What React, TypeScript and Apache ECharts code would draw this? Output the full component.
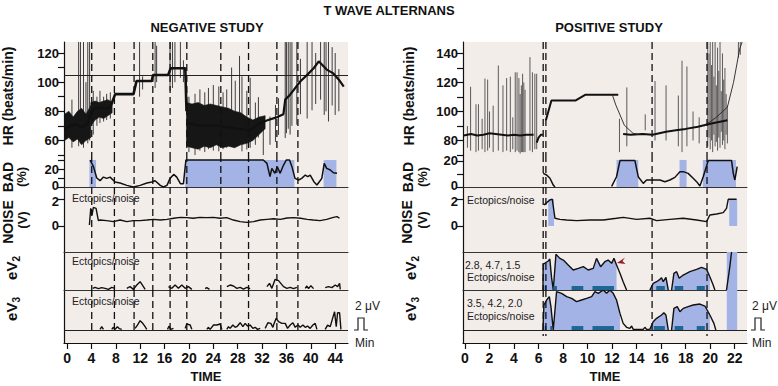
import React, { useEffect, useRef } from "react";
import * as echarts from "echarts";

const FONT = "'Liberation Sans', Arial, Helvetica, sans-serif";
const BG = "#f3edea";
const BLUE = "#a4b3e6";
const TEAL = "#1d6795";
const INK = "#111111";

// ---------------- axis ticks / labels ----------------
const leftTimeLabels = [0, 4, 8, 12, 16, 20, 24, 28, 32, 36, 40, 44];
const rightTimeLabels = [0, 2, 4, 6, 8, 10, 12, 14, 16, 18, 20, 22];
const leftHrTicks = [50, 60, 70, 80, 90, 100, 110, 120];
const leftHrLabels = [60, 80, 100, 120];
const rightHrTicks = [70, 80, 90, 100, 110, 120, 130, 140];
const rightHrLabels = [80, 100, 120, 140];
const leftBadTicks = [0, 10, 20, 30];
const rightBadTicks = [0, 10, 20];
const badLabels = [0, 20];
const noiseTicks = [0, 1, 2];
const noiseLabels = [0, 1, 2];
const hrReferenceLeft = 105;
const tealHeight = 0.68;

// ---------------- event markers (dashed lines) ----------------
const leftEvents = [4.05, 7.77, 11.0, 14.07, 16.91, 19.65, 25.23, 29.78, 34.43, 37.88];
const rightEvents = [6.38, 6.6, 15.26, 19.74];

// ---------------- NEGATIVE STUDY : HR ----------------
const leftHrTrendA = [[-0.4, 68], [0.5, 70], [1.5, 71], [2.5, 69], [3.5, 72], [4.0, 80], [4.5, 82], [5.5, 82.5], [6.5, 82], [7.1, 83], [7.9, 91.8], [10.9, 91.8], [11.4, 100.8], [13.9, 100.8], [14.1, 104.9], [16.6, 105], [17.0, 109.5], [19.4, 109.5], [19.6, 80]];
const leftHrTrendB = [[19.6, 72], [22, 70], [25, 70], [28, 68], [30, 67], [31.7, 72], [33, 74], [34.5, 76], [35.5, 78], [35.8, 88], [36.6, 91.4], [38.3, 100.6], [39.4, 105], [40.5, 109.7], [41.3, 114.3], [42.6, 108.6], [43.7, 106], [44.6, 101.7], [45.4, 97]];
const leftHrBandA = [[-0.4, 60, 78], [0.3, 62, 80], [1.0, 59, 76], [1.7, 61, 80], [2.4, 57, 82], [3.1, 60, 78], [3.9, 62, 84]];
const leftHrBandB = [[3.9, 70, 86], [4.6, 74, 87], [5.3, 76, 86], [6.0, 75, 87], [6.7, 77, 88], [7.4, 79, 86]];
const leftHrBandC = [[19.6, 56, 86], [20.5, 55, 85], [21.5, 54, 86], [22.5, 56, 84], [23.5, 55, 85], [24.5, 57, 84], [25.5, 55, 83], [26.5, 56, 82], [27.5, 55, 80], [28.5, 57, 79], [29.5, 58, 76], [30.5, 60, 74], [31.5, 64, 76], [32.5, 68, 77]];
const leftHrSpikes = [
  [0.8, 55, 88], [1.9, 56, 127.5], [2.2, 58, 127.5], [2.7, 55, 127.5], [3.1, 60, 100], [3.4, 58, 127.5], [3.7, 60, 127.5],
  [4.3, 64, 94], [4.9, 70, 90], [5.4, 72, 94], [6.0, 73, 90], [6.5, 74, 92], [7.1, 75, 93],
  [11.9, 90, 127.5], [12.4, 95, 104], [14.45, 96, 127.5], [14.7, 100, 125],
  [16.9, 94, 127.5], [17.3, 96, 127.5], [17.7, 100, 127.5], [18.6, 103, 127.5], [19.1, 100, 115],
  [20.0, 52, 90], [21.0, 50, 92], [21.8, 53, 95], [22.6, 52, 93], [23.2, 54, 96], [24.0, 53, 98], [24.9, 52.5, 97],
  [25.6, 54, 93], [26.2, 55, 95], [27.0, 61.7, 110], [27.6, 57, 101], [28.3, 57, 118], [28.7, 52.5, 104], [29.5, 53.7, 94],
  [30.05, 55, 103], [30.9, 57, 86], [31.4, 62, 89.7], [32.2, 50, 74], [33.3, 57, 76.4], [34.2, 59, 84.4], [34.7, 63.8, 89],
  [35.8, 61.7, 127.5], [36.0, 65, 127.5], [36.3, 68, 127.5], [36.6, 64, 127.5], [36.9, 70, 127.5], [37.7, 70.8, 127.5],
  [38.3, 78, 116], [39.4, 75, 127.5], [40.2, 80.7, 127.5], [40.8, 85, 120], [41.6, 88, 127.5], [42.2, 77.5, 127.5],
  [42.5, 80, 127.5], [42.9, 73, 127.5], [43.5, 84, 124], [44.0, 77.5, 120], [44.6, 80, 109],
];

// ---------------- NEGATIVE STUDY : BAD / NOISE / eV ----------------
const leftBadRects = [[3.67, 4.76, 30], [19.38, 37.3, 30], [42.1, 44.2, 30]];
const leftBad = [[3.78, 30], [4.32, 23], [4.87, 10], [5.42, 7], [5.97, 11], [6.51, 9.6], [7.06, 11], [7.88, 5.5], [8.7, 4.4], [9.8, 1.8], [10.9, 0], [12.0, 1.8], [13.1, 4.4], [13.9, 5.5], [14.45, 7], [15.3, 1.8], [15.8, 0], [16.4, 1.8], [16.9, 9.6], [17.5, 14], [18.0, 11], [18.6, 3.7], [19.1, 3.7], [19.5, 30], [32.2, 30], [32.8, 26.3], [33.3, 11.5], [33.6, 20.7], [34.1, 15.2], [34.5, 22.6], [34.97, 15.2], [35.4, 22.6], [35.96, 30], [36.5, 30], [36.9, 22.6], [37.4, 9.6], [38.0, 7.8], [38.5, 9.6], [39.1, 13.3], [39.5, 11.5], [39.9, 13.3], [40.5, 5.9], [41.0, 2.2], [41.4, 5.9], [41.8, 9.6], [42.2, 26.3], [42.6, 20.7], [43.2, 18.9], [43.7, 15.9], [44.3, 15.2]];
const leftNoise = [[3.67, 0.07], [3.89, 1.31], [4.1, 0.81], [4.32, 1.38], [4.76, 1.31], [5.14, 0.4], [5.42, 0.44], [6.51, 0.4], [7.6, 0.32], [8.7, 0.44], [9.8, 0.32], [10.9, 0.4], [12.0, 0.4], [13.1, 0.44], [14.2, 0.49], [15.3, 0.44], [16.4, 0.49], [17.5, 0.57], [18.6, 0.64], [19.65, 0.62], [20.7, 0.57], [21.8, 0.64], [22.9, 0.62], [24.0, 0.64], [25.1, 0.57], [26.2, 0.62], [27.3, 0.44], [28.4, 0.32], [29.5, 0.27], [30.6, 0.32], [31.7, 0.44], [32.8, 0.49], [33.9, 0.54], [35.0, 0.49], [36.1, 0.59], [37.2, 0.62], [38.3, 0.57], [39.4, 0.49], [40.4, 0.44], [41.5, 0.4], [42.6, 0.49], [43.7, 0.64], [44.3, 0.69], [44.7, 0.57]];
const leftEv2Segments = [
  [[4.21, 0.28], [4.6, 0.46], [5.14, 0.23], [5.69, 0.4], [6.24, 0.28], [6.79, 0.11], [7.33, 0.46], [7.88, 0.28]],
  [[9.8, 0.28], [10.34, 0.57], [10.89, 0.11], [11.44, 0.85], [11.99, 1.42], [12.53, 0.57], [12.81, 0.11]],
  [[16.64, 0.57], [17.19, 0.28], [17.73, 0.85], [18.28, 0.28], [18.83, 0.85], [19.38, 0.28], [19.92, 0.57], [20.47, 0.11]],
  [[22.66, 0.23], [22.93, 0.4], [23.37, 0.11]],
  [[26.22, 0.57], [26.76, 0.85], [27.31, 0.68], [27.86, 0.28], [28.41, 0.46], [28.95, 0.17], [29.5, 0.46], [30.05, 0.23]],
  [[32.79, 0.57], [33.22, 1.14], [33.61, 0.28], [34.15, 1.82], [34.7, 1.6], [35.52, 0.57], [36.07, 0.28], [36.62, 0.46], [37.16, 0.23], [37.71, 0.46]],
  [[39.08, 0.28], [39.35, 0.68], [39.63, 0.23], [40.01, 0.74], [40.45, 0.23]],
  [[42.36, 0.4], [42.91, 0.57], [43.46, 0.4], [44.0, 0.85], [44.39, 0.57], [44.72, 1.14], [44.83, 0.11]],
];
const leftEv3Segments = [
  [[5.42, 0.11], [5.69, 0.57], [5.97, 0.11]],
  [[7.33, 0.11], [7.61, 0.46], [7.88, 0.11], [8.26, 0.57], [8.59, 0.23], [8.98, 0.11]],
  [[11.17, 0.28], [11.55, 0.85], [11.99, 1.6], [12.42, 1.14], [12.81, 0.57], [13.08, 0.11]],
  [[16.48, 0.11], [16.75, 0.68], [17.02, 0.11], [17.46, 0.28]],
  [[19.38, 0.28], [19.65, 1.03], [20.2, 0.85], [20.47, 0.11]],
  [[22.93, 0.11], [23.21, 0.46], [23.48, 0.11], [24.03, 0.85], [24.58, 0.85], [25.12, 1.03], [25.4, 0.11]],
  [[26.22, 0.11], [26.49, 0.57], [26.76, 0.28], [27.2, 0.85], [27.59, 0.46], [27.97, 0.68], [28.41, 1.25], [28.85, 0.57], [29.23, 1.14], [29.61, 0.68], [30.05, 0.85], [30.49, 0.28], [30.87, 0.46], [31.25, 0.11], [31.69, 0.28]],
  [[32.51, 0.28], [32.95, 1.25], [33.44, 1.14], [33.77, 0.46], [33.99, 1.14], [34.32, 1.99], [34.7, 1.42], [35.25, 1.14], [35.8, 1.14], [36.18, 0.28], [36.62, 0.85], [37.06, 1.25], [37.44, 0.46], [37.88, 0.85], [38.26, 0.46], [38.7, 0.85], [39.08, 0.46], [39.46, 0.68], [39.9, 0.28], [40.34, 0.85], [40.72, 1.14], [41.0, 0.11]],
  [[42.36, 0.11], [42.75, 0.85], [43.19, 0.57], [43.57, 1.99], [43.9, 3.13], [44.17, 0.57], [44.39, 2.96], [44.72, 2.96], [44.94, 0.11]],
];

// ---------------- POSITIVE STUDY : HR ----------------
const rightHrTrendA = [[-0.1, 83.5], [0.5, 84.5], [1, 83.5], [1.5, 84], [2, 85], [2.5, 84.5], [3, 84], [3.5, 83.5], [4, 84], [4.5, 83.5], [5, 84], [5.6, 84]];
const rightHrTrendB = [[5.85, 78.5], [6.0, 82], [6.2, 84], [6.35, 84]];
const rightHrTrendC = [[6.6, 94], [6.8, 100], [7.05, 107.5], [9.0, 107.5], [9.8, 111.5], [12.5, 111.5]];
const rightHrTrendD = [[12.9, 84.5], [13.5, 84], [14.5, 84.5], [15.3, 84], [16.4, 86], [17.2, 87], [18, 88], [19, 89.5], [20, 91.5], [21.4, 94]];
const rightHrThinA = [[12.0, 112], [12.3, 104.5], [13.0, 90.5], [13.7, 85], [14.2, 84]];
const rightHrThinB = [[19.5, 90], [20.5, 96], [21.4, 103], [21.9, 120], [22.4, 143], [22.6, 147.9]];
const rightHrSpikes = [
  [0.2, 75, 90], [0.46, 73, 117], [0.9, 72, 105], [1.1, 73, 105], [1.4, 74, 95], [1.63, 72, 122.7], [1.85, 73, 122],
  [2.0, 75, 100], [2.3, 72, 104], [2.72, 73, 131.7], [3.1, 72, 118], [3.4, 73, 123], [3.7, 72, 124], [3.9, 74, 96],
  [4.1, 72, 127], [4.25, 73, 127], [4.4, 72, 123], [4.5, 71, 112], [4.6, 72, 118], [4.7, 72, 126], [4.8, 72, 120],
  [4.9, 72, 115], [5.3, 73, 137.5], [5.5, 72, 127], [5.7, 74, 126], [5.85, 74, 126],
  [12.6, 72, 95], [13.2, 76, 116.6], [14.7, 87, 98], [15.5, 80, 121], [16.4, 80, 118], [17.4, 76, 111],
  [17.7, 72, 135], [18.1, 76, 131], [18.6, 80, 100], [19.1, 78, 96],
  [19.8, 76, 147.9], [19.9, 82, 140], [20.0, 74, 147.9], [20.1, 80, 132], [20.2, 72, 147.9], [20.3, 84, 124],
  [20.4, 76, 147.9], [20.5, 79, 118], [20.6, 73, 144], [20.7, 82, 128], [20.8, 75, 147.9], [20.9, 86, 114],
  [21.0, 77, 140], [21.1, 80, 122], [21.2, 74, 130], [21.3, 84, 112], [21.4, 78, 104],
  [22.3, 137, 147.9], [22.45, 139, 147.9],
];

// ---------------- POSITIVE STUDY : BAD / NOISE ----------------
const rightBadRects = [[12.36, 14.13, 20.8], [17.5, 18.07, 20.8], [19.4, 22.1, 20.8]];
const rightBadA = [[6.38, 10.5], [6.66, 9.2], [6.93, 6.7], [7.2, 1.5], [7.34, 0]];
const rightBadB = [[11.96, 0.5], [12.36, 7.9], [12.64, 20.3], [13.86, 20.3], [14.13, 7.9], [14.54, 2.8], [14.81, 5.4], [15.35, 5.4], [15.9, 5.4], [16.3, 4.1], [16.71, 5.4], [17.12, 7.4], [17.53, 11.8], [17.8, 11.8], [18.2, 10.5], [18.61, 6.7], [18.89, 4.1], [19.16, 0.8], [19.43, 7.9], [19.84, 20.3], [21.74, 20.3], [21.88, 10.5], [22.01, 5.4], [22.2, 15.6]];
const rightNoiseRects = [[6.79, 7.26, 2.0], [21.55, 22.2, 2.0]];
const rightNoise = [[6.44, 1.56], [6.66, 1.73], [6.93, 1.93], [7.12, 1.98], [7.34, 0.57], [7.74, 0.49], [8.29, 0.44], [9.1, 0.4], [10.19, 0.44], [11.28, 0.44], [12.36, 0.57], [12.91, 0.64], [14.0, 0.49], [15.08, 0.57], [15.63, 0.4], [16.71, 0.49], [17.8, 0.57], [18.89, 0.44], [19.7, 0.32], [19.97, 0.81], [20.52, 0.89], [21.06, 0.99], [21.33, 1.31], [21.47, 1.98], [22.15, 1.98]];

// ---------------- POSITIVE STUDY : eV2 / eV3 ----------------
const rightEv2Filled = [
  [[6.36, 0], [6.38, 4.4], [6.79, 4.96], [6.92, 5.3], [7.06, 2.2], [7.2, 0], [7.42, 6.1], [7.74, 5.41], [8.02, 5.13], [8.42, 4.27], [8.83, 3.42], [9.24, 3.7], [9.65, 3.99], [10.05, 3.42], [10.46, 3.7], [10.73, 5.41], [11.06, 3.99], [11.41, 4.84], [11.68, 5.13], [11.96, 4.56], [12.15, 5.41], [12.36, 4.27]],
  [[15.08, 0], [15.35, 1.14], [15.63, 1.42], [15.9, 1.82], [16.03, 2.1], [16.17, 1.42], [16.39, 2.17], [16.58, 0]],
  [[16.85, 0], [17.04, 2.85], [17.26, 3.13], [17.47, 2.0], [17.8, 2.56], [18.34, 3.13], [18.89, 3.53], [19.29, 3.87], [19.7, 3.53], [19.97, 2.28]],
];
const rightEv2Tails = [
  [[12.36, 4.27], [12.64, 2.85], [12.9, 1.42], [13.18, 0]],
  [[19.97, 2.28], [20.24, 0.85], [20.38, 0]],
  [[21.33, 0], [21.6, 3.99], [21.74, 6.5]],
];
const rightEv3Filled = [
  [[6.36, 0], [6.44, 4.27], [6.66, 5.13], [6.88, 5.7], [7.01, 3.99], [7.2, 0], [7.47, 6.55], [7.88, 6.27], [8.29, 5.7], [8.7, 5.41], [9.1, 4.84], [9.51, 5.13], [9.92, 5.41], [10.33, 5.7], [10.6, 6.55], [10.87, 6.27], [11.28, 6.84], [11.55, 6.27], [11.82, 6.84], [12.09, 6.27], [12.36, 5.13], [12.64, 2.85]],
  [[15.08, 0.11], [15.35, 1.42], [15.63, 2.0], [16.03, 2.56], [16.22, 2.96], [16.39, 2.56], [16.58, 0]],
  [[16.85, 0], [17.04, 3.7], [17.31, 3.99], [17.53, 3.13], [17.8, 3.7], [18.2, 3.99], [18.61, 4.27], [19.16, 4.44], [19.57, 4.1], [19.97, 2.56]],
];
const rightEv3Tails = [
  [[12.64, 2.85], [12.9, 1.14], [13.18, 0.46], [13.45, 0.28], [13.59, 0.68], [13.72, 0.11], [14.54, 0.11], [14.67, 0.46], [14.81, 0.11], [15.08, 0.11]],
  [[19.97, 2.56], [20.3, 1.14], [20.46, 0]],
];
const rightEv2Teal = [[6.5, 6.65], [7.2, 7.5], [8.7, 9.65], [10.4, 12.15], [15.6, 16.3], [17.1, 17.8], [18.9, 19.56]];
const rightEv3Teal = [[6.5, 6.65], [6.95, 7.1], [8.7, 9.65], [10.4, 12.15], [15.4, 16.3], [17.1, 17.8], [18.9, 19.56]];
const rightEvBlock = [[21.35, 22.2]];

// ---------------- layout ----------------
const ROWS = [
  { top: 42, height: 113 },
  { top: 155, height: 32 },
  { top: 187, height: 65 },
  { top: 252, height: 38 },
  { top: 290, height: 53 },
];
const EV2_MAX = 6.5;
const EV3_MAX = 6.84;

function buildOption() {
  const grids: any[] = [];
  const xAxes: any[] = [];
  const yAxes: any[] = [];
  const series: any[] = [];

  // small nudges so that the adjoining BAD "0" and NOISE "2" labels do not collide
  const badFormatter = (v: number) => (v === 0 ? "{lo|0}" : String(v));
  const noiseFormatter = (v: number) => (v === 2 ? "{hi|2}" : String(v));
  const richNudge = {
    lo: { fontSize: 13, fontWeight: "bold", fontFamily: FONT, color: INK, padding: [0, 0, 4, 0] },
    hi: { fontSize: 13, fontWeight: "bold", fontFamily: FONT, color: INK, padding: [4, 0, 0, 0] },
  };

  const panels = [
    {
      left: 64, right: 430, xmin: -0.5, xmax: 46.1, timeLabels: leftTimeLabels,
      y: [
        { min: 50, max: 127.55, ticks: leftHrTicks, labels: leftHrLabels },
        { min: 0, max: 35.6, ticks: leftBadTicks, labels: badLabels, fmt: badFormatter },
        { min: -1.93, max: 2.89, ticks: noiseTicks, labels: noiseLabels, fmt: noiseFormatter },
        { min: 0, max: EV2_MAX },
        { min: -2.22, max: EV3_MAX },
      ],
    },
    {
      left: 463, right: 31, xmin: -0.16, xmax: 23.0, timeLabels: rightTimeLabels,
      y: [
        { min: 70, max: 147.9, ticks: rightHrTicks, labels: rightHrLabels },
        { min: 0, max: 24.6, ticks: rightBadTicks, labels: badLabels, fmt: badFormatter },
        { min: -1.93, max: 2.89, ticks: noiseTicks, labels: noiseLabels, fmt: noiseFormatter },
        { min: 0, max: EV2_MAX },
        { min: -2.22, max: EV3_MAX },
      ],
    },
  ];

  const xLabelStyle = { fontSize: 14, fontWeight: "bold", color: INK, fontFamily: FONT };
  const yLabelStyle = { fontSize: 13, lineHeight: 12, fontWeight: "bold", color: INK, fontFamily: FONT };

  panels.forEach((p, pi) => {
    ROWS.forEach((r, ri) => {
      const g = pi * 5 + ri;
      grids.push({
        left: p.left, right: p.right, top: r.top, height: r.height,
        show: true, backgroundColor: BG, borderWidth: 0, containLabel: false, outerBoundsMode: "none",
      });
      const isBottom = ri === 4;
      xAxes.push({
        type: "value", gridIndex: g, min: p.xmin, max: p.xmax,
        axisLine: { show: ri > 0, onZero: false, lineStyle: { color: isBottom ? INK : "#333", width: isBottom ? 1.2 : 1 } },
        axisTick: isBottom
          ? { show: true, customValues: p.timeLabels, length: 6, lineStyle: { color: INK, width: 1.2 } }
          : { show: false },
        axisLabel: isBottom
          ? { show: true, customValues: p.timeLabels.slice(), margin: 8, hideOverlap: false, showMinLabel: true, showMaxLabel: true, ...xLabelStyle }
          : { show: false },
        splitLine: { show: false },
        name: isBottom ? "TIME" : "",
        nameLocation: "middle",
        nameGap: 27,
        nameTextStyle: { fontSize: 13, fontWeight: "bold", color: INK, fontFamily: FONT },
      });
      const yc: any = p.y[ri];
      const yLabel: any = yc.labels
        ? { show: true, customValues: yc.labels.slice(), margin: 5, hideOverlap: false, showMinLabel: true, showMaxLabel: true, ...yLabelStyle }
        : { show: false };
      if (yc.fmt) {
        yLabel.formatter = yc.fmt;
        yLabel.rich = richNudge;
      }
      yAxes.push({
        type: "value", gridIndex: g, min: yc.min, max: yc.max,
        axisLine: { show: true, onZero: false, lineStyle: { color: INK, width: 1.2 } },
        axisTick: yc.ticks
          ? { show: true, customValues: yc.ticks.slice(), length: 6, lineStyle: { color: INK, width: 1.2 } }
          : { show: false },
        axisLabel: yLabel,
        splitLine: { show: false },
      });
    });
  });

  const lineS = (g: number, data: any[], width: number, color = INK, extra: any = {}) => ({
    type: "line", xAxisIndex: g, yAxisIndex: g, data, showSymbol: false, symbol: "none",
    lineStyle: { color, width }, z: 5, silent: true, ...extra,
  });

  const hLine = (value: number) => ({
    silent: true, symbol: ["none", "none"], label: { show: false },
    lineStyle: { color: "#222", width: 1, type: "solid" }, data: [{ yAxis: value }],
  });

  const spikeS = (g: number, data: number[][], color: string, width: number) => ({
    type: "custom", xAxisIndex: g, yAxisIndex: g, data, clip: true, silent: true, z: 3,
    encode: { x: 0, y: [1, 2] },
    renderItem: (params: any, api: any) => {
      const a = api.coord([api.value(0), api.value(1)]);
      const b = api.coord([api.value(0), api.value(2)]);
      return { type: "line", shape: { x1: a[0], y1: a[1], x2: b[0], y2: b[1] }, style: { stroke: color, lineWidth: width } };
    },
  });

  const bandS = (g: number, band: number[][]) => ({
    type: "custom", xAxisIndex: g, yAxisIndex: g, data: band, clip: true, silent: true, z: 4,
    encode: { x: 0, y: [1, 2] },
    renderItem: (params: any, api: any) => {
      if (params.dataIndex !== 0) return { type: "group", children: [] };
      const upper = band.map((r) => api.coord([r[0], r[2]]));
      const lower = band.slice().reverse().map((r) => api.coord([r[0], r[1]]));
      return {
        type: "polygon", shape: { points: upper.concat(lower) },
        style: { fill: "#161616", stroke: "#161616", lineWidth: 0.6 },
      };
    },
  });

  const rectS = (g: number, data: number[][], color: string, z = 1) => ({
    type: "custom", xAxisIndex: g, yAxisIndex: g, data, clip: true, silent: true, z,
    encode: { x: [0, 1], y: 2 },
    renderItem: (params: any, api: any) => {
      const a = api.coord([api.value(0), api.value(2)]);
      const b = api.coord([api.value(1), 0]);
      return { type: "rect", shape: { x: a[0], y: a[1], width: b[0] - a[0], height: b[1] - a[1] }, style: { fill: color } };
    },
  });

  const dashS = (g: number, events: number[], toBase: boolean, ext = 2) => ({
    type: "custom", xAxisIndex: g, yAxisIndex: g, data: events.map((t) => [t, 0]), silent: true, z: 8,
    encode: { x: 0, y: 1 },
    renderItem: (params: any, api: any) => {
      const cs = params.coordSys;
      const base = api.coord([api.value(0), 0]);
      const y1 = cs.y;
      const y2 = toBase ? base[1] + ext : cs.y + cs.height;
      return {
        type: "line", shape: { x1: base[0], y1, x2: base[0], y2 },
        style: { stroke: INK, lineWidth: 1.3, lineDash: [7, 4] },
      };
    },
  });

  // ----- left panel -----
  series.push(bandS(0, leftHrBandA), bandS(0, leftHrBandB), bandS(0, leftHrBandC));
  series.push(spikeS(0, leftHrSpikes, "#2a2a2a", 0.9));
  series.push(lineS(0, leftHrTrendA, 2.6, INK, { markLine: hLine(hrReferenceLeft) }));
  series.push(lineS(0, leftHrTrendB, 2.2));
  series.push(rectS(1, leftBadRects, BLUE));
  series.push(lineS(1, leftBad, 1.5));
  series.push(lineS(2, leftNoise, 1.4));
  leftEv2Segments.forEach((s) => series.push(lineS(3, s, 1.4)));
  leftEv3Segments.forEach((s, i) => series.push(lineS(4, s, 1.4, INK, i === 0 ? { markLine: hLine(0) } : {})));
  [0, 1, 2, 3].forEach((g) => series.push(dashS(g, leftEvents, false)));
  series.push(dashS(4, leftEvents, true, 2));

  // ----- right panel -----
  series.push(spikeS(5, rightHrSpikes, "#4a4a4a", 0.9));
  [rightHrTrendA, rightHrTrendB, rightHrTrendC, rightHrTrendD].forEach((s) => series.push(lineS(5, s, 2)));
  [rightHrThinA, rightHrThinB].forEach((s) => series.push(lineS(5, s, 0.9, "#222")));
  series.push(rectS(6, rightBadRects, BLUE));
  series.push(lineS(6, rightBadA, 1.5), lineS(6, rightBadB, 1.5));
  series.push(rectS(7, rightNoiseRects, BLUE));
  series.push(lineS(7, rightNoise, 1.4));

  const area = { areaStyle: { color: BLUE, opacity: 1, origin: 0 }, z: 2 };
  rightEv2Filled.forEach((s) => series.push(lineS(8, s, 1.4, INK, { ...area, z: 5 })));
  rightEv2Tails.forEach((s) => series.push(lineS(8, s, 1.4)));
  series.push(rectS(8, rightEv2Teal.map((b) => [b[0], b[1], tealHeight]), TEAL, 6));
  series.push(rectS(8, rightEvBlock.map((b) => [b[0], b[1], EV2_MAX]), BLUE, 1));
  rightEv3Filled.forEach((s, i) => series.push(lineS(9, s, 1.4, INK, i === 0 ? { ...area, z: 5, markLine: hLine(0) } : { ...area, z: 5 })));
  rightEv3Tails.forEach((s) => series.push(lineS(9, s, 1.4)));
  series.push(rectS(9, rightEv3Teal.map((b) => [b[0], b[1], tealHeight]), TEAL, 6));
  series.push(rectS(9, rightEvBlock.map((b) => [b[0], b[1], EV3_MAX]), BLUE, 1));
  [5, 6, 7, 8].forEach((g) => series.push(dashS(g, rightEvents, false)));
  series.push(dashS(9, rightEvents, true, 6));

  // ----- texts and decorations -----
  const bold = (size: number) => `bold ${size}px ${FONT}`;
  const reg = (size: number) => `${size}px ${FONT}`;
  const txt = (x: number, y: number, text: string, font: string, align = "center", rot = 0, fill = INK) => ({
    type: "text", x, y, rotation: rot, silent: true, z: 20,
    style: { text, font, fill, textAlign: align, align, textVerticalAlign: "middle", verticalAlign: "middle" },
  });
  const sub = (x: number, y: number, base: string, s: string) => ({
    type: "text", x, y, rotation: Math.PI / 2, silent: true, z: 20,
    style: {
      text: `{a|${base}}{b|${s}}`, textAlign: "center", align: "center", textVerticalAlign: "middle", verticalAlign: "middle",
      fill: INK,
      rich: {
        a: { font: bold(15), fill: INK, color: INK, lineHeight: 20, verticalAlign: "middle" },
        b: { font: bold(10), fill: INK, color: INK, lineHeight: 20, verticalAlign: "bottom" },
      },
    },
  });
  const R = Math.PI / 2;
  const graphic: any[] = [
    txt(389, 10, "T WAVE ALTERNANS", bold(13)),
    txt(207, 27, "NEGATIVE STUDY", bold(13)),
    txt(609, 27, "POSITIVE STUDY", bold(13)),
  ];
  [
    { hx: 8, bx: 8, px: 21, nx: 8, vx: 22, ex: 11 },
    { hx: 409, bx: 408, px: 422, nx: 407, vx: 422, ex: 410 },
  ].forEach((c) => {
    graphic.push(txt(c.hx, 96, "HR (beats/min)", bold(14), "center", R));
    graphic.push(txt(c.bx, 177, "BAD", bold(14), "center", R));
    graphic.push(txt(c.px, 177, "(%)", bold(13), "center", R));
    graphic.push(txt(c.nx, 222, "NOISE", bold(14), "center", R));
    graphic.push(txt(c.vx, 220, "(V)", bold(13), "center", R));
    graphic.push(sub(c.ex, 268, "eV", "2"));
    graphic.push(sub(c.ex, 309, "eV", "3"));
  });
  const note = "#222";
  graphic.push(txt(72, 198, "Ectopics/noise", reg(10.5), "left", 0, note));
  graphic.push(txt(72, 261, "Ectopics/noise", reg(10.5), "left", 0, note));
  graphic.push(txt(72, 301, "Ectopics/noise", reg(10.5), "left", 0, note));
  graphic.push(txt(467, 200, "Ectopics/noise", reg(10.5), "left", 0, note));
  graphic.push(txt(465, 265, "2.8, 4.7, 1.5", reg(10.5), "left", 0, note));
  graphic.push(txt(467, 277, "Ectopics/noise", reg(10.5), "left", 0, note));
  graphic.push(txt(467, 303, "3.5, 4.2, 2.0", reg(10.5), "left", 0, note));
  graphic.push(txt(467, 316, "Ectopics/noise", reg(10.5), "left", 0, note));
  [355, 752].forEach((x0) => {
    graphic.push(txt(x0, 306, "2 μV", reg(12), "left", 0, "#222"));
    graphic.push(txt(x0, 343, "Min", reg(12), "left", 0, "#222"));
    graphic.push({
      type: "polyline", silent: true, z: 20,
      shape: { points: [[x0 - 1, 330], [x0 + 3, 330], [x0 + 3, 318], [x0 + 9, 318], [x0 + 9, 330], [x0 + 13, 330]] },
      style: { stroke: "#222", lineWidth: 1.2, fill: null },
    });
  });
  graphic.push({
    type: "polygon", silent: true, z: 20,
    shape: { points: [[617, 263], [625, 257.5], [622.5, 261], [625.5, 264]] },
    style: { fill: "#9b1b2a" },
  });

  return {
    animation: false,
    backgroundColor: "#ffffff",
    textStyle: { fontFamily: FONT },
    grid: grids,
    xAxis: xAxes,
    yAxis: yAxes,
    series,
    graphic,
  };
}

export default function App() {
  const ref = useRef<HTMLDivElement>(null);
  useEffect(() => {
    if (!ref.current) return;
    const chart = echarts.init(ref.current, null, { renderer: "svg" });
    chart.setOption(buildOption() as any);
    return () => chart.dispose();
  }, []);
  return <div ref={ref} style={{ position: "absolute", left: 0, top: 0, width: 778, height: 386 }} />;
}
